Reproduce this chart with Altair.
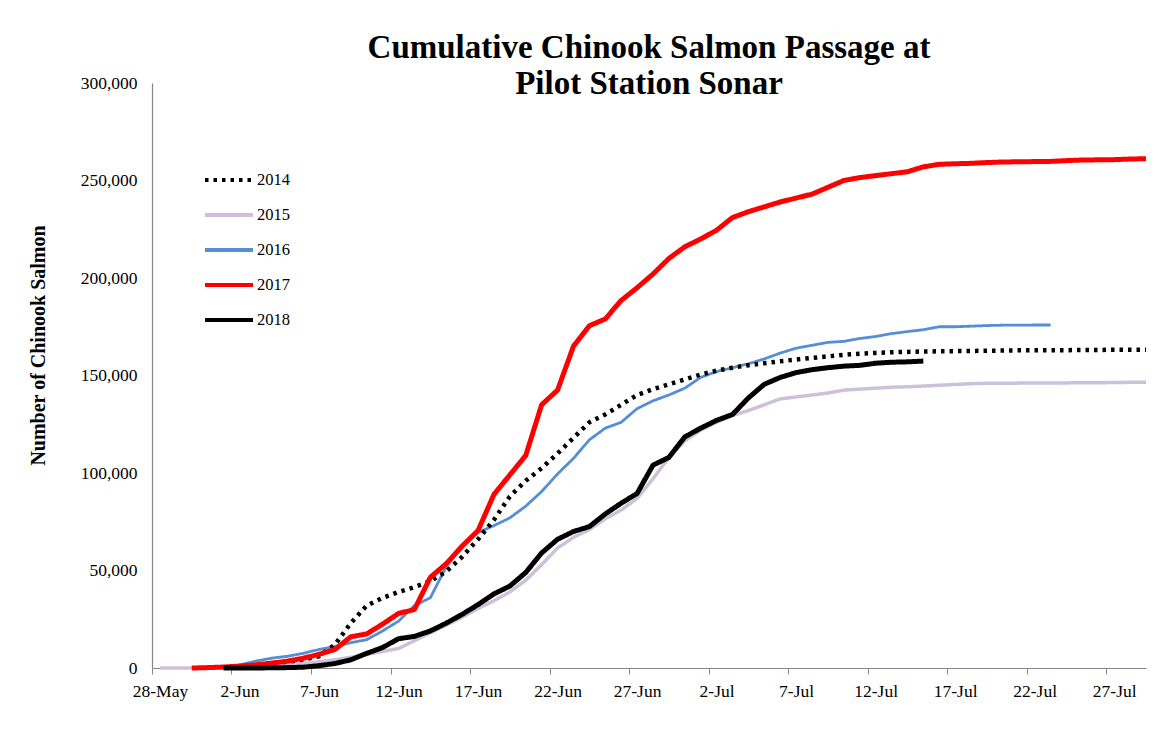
import altair as alt
import pandas as pd
from datetime import datetime, timedelta

YEARS = ["2014", "2015", "2016", "2017", "2018"]
COLORS = ["#000000", "#CCC1DA", "#558ED5", "#FF0000", "#000000"]
DASHES = [[3.5, 5], [1, 0], [1, 0], [1, 0], [1, 0]]
WIDTHS = {"2014": 4.5, "2015": 3.5, "2016": 2.8, "2017": 5, "2018": 5}
DRAW_ORDER = ["2015", "2016", "2014", "2017", "2018"]

START = {"2014": "2018-06-01", "2015": "2018-05-28", "2016": "2018-06-01",
         "2017": "2018-05-30", "2018": "2018-06-01"}

# cumulative passage, thousands of fish, one value per day from START
V2014 = [0.3, 0.8, 1.5, 2.3, 3.2, 4.3, 6, 12, 23, 32, 36, 39, 41.5, 44.5, 49.5, 57, 66,
         76, 88, 96, 102.5, 110, 118, 126, 130, 135, 140, 143, 145.5, 148, 150.5, 152.5,
         154, 155.3, 156.3, 157.3, 158.2, 159, 159.8, 160.6, 161.2, 161.6, 161.9, 162.1,
         162.3, 162.4, 162.5, 162.6, 162.7, 162.8, 162.9, 163, 163, 163, 163.1, 163.1,
         163.2, 163.2, 163.2]
V2015 = [0, 0, 0, 0, 0.1, 0.3, 0.6, 1.0, 1.6, 2.3, 3.2, 4.2, 5.5, 7, 8.5, 10, 14, 18, 22,
         26, 30.5, 34.5, 39, 45, 53, 61.5, 67, 71, 76.5, 81, 87, 97, 108, 116.5, 122, 126,
         129.5, 132, 135, 138, 139, 140, 141, 142.5, 143, 143.5, 144, 144.2, 144.6, 145,
         145.4, 145.8, 146, 146, 146.1, 146.1, 146.2, 146.2, 146.3, 146.3, 146.4, 146.5,
         146.5]
V2016 = [0, 1.5, 3.5, 5, 6, 7.5, 9.5, 11, 13, 14.5, 19, 24, 32, 36, 52, 62, 69.5, 73, 77,
         83, 90.5, 99.5, 107.5, 117, 123, 126, 133, 137, 140, 143.5, 149, 152, 154, 156,
         158.5, 161.5, 164, 165.5, 167, 167.5, 169, 170, 171.5, 172.5, 173.5, 175, 175,
         175.3, 175.6, 175.8, 175.8, 175.9, 175.9]
V2017 = [0, 0.2, 0.5, 1, 1.6, 2.5, 3.5, 5, 7, 9.5, 16, 17.5, 22.5, 28, 30, 46.5, 53.5,
         62.5, 70.5, 89, 99, 109, 135, 142.5, 165, 175.5, 179, 188.5, 195, 202, 210, 216,
         220, 224.5, 231, 234, 236.5, 239, 241, 243, 246.5, 250, 251.5, 252.5, 253.5,
         254.5, 257, 258.3, 258.6, 258.8, 259.2, 259.5, 259.6, 259.7, 259.8, 260.2, 260.5,
         260.6, 260.7, 261, 261.2]
V2018 = [0, 0, 0, 0.1, 0.2, 0.4, 1.2, 2.3, 4.2, 7.5, 10.5, 15, 16.2, 19, 23, 27.5, 32.5,
         38, 42, 49, 59, 66, 70, 72.5, 79, 84.5, 89.5, 104, 108, 118.5, 123, 127, 130,
         138.5, 145.5, 149, 151.5, 153, 154, 154.8, 155.2, 156.3, 156.8, 157, 157.4]
SERIES = {"2014": V2014, "2015": V2015, "2016": V2016, "2017": V2017, "2018": V2018}

TICK_DATES = ["2018-05-28", "2018-06-02", "2018-06-07", "2018-06-12", "2018-06-17",
              "2018-06-22", "2018-06-27", "2018-07-02", "2018-07-07", "2018-07-12",
              "2018-07-17", "2018-07-22", "2018-07-27"]
Y_TICKS = [0, 50000, 100000, 150000, 200000, 250000, 300000]

rows = []
for yr in DRAW_ORDER:
    d0 = datetime.strptime(START[yr], "%Y-%m-%d")
    for i, v in enumerate(SERIES[yr]):
        rows.append({"year": yr,
                     "date": (d0 + timedelta(days=i)).strftime("%Y-%m-%dT00:00:00"),
                     "value": v * 1000})
df = pd.DataFrame(rows)


def dt(s, hours=0):
    d = datetime.strptime(s, "%Y-%m-%d")
    return alt.DateTime(year=d.year, month=d.month, date=d.day, hours=hours)


legend = alt.Legend(title=None, orient="none", legendX=51, legendY=71,
                    symbolType="stroke", symbolSize=2304, symbolStrokeWidth=4,
                    labelFont="Liberation Serif", labelFontSize=16.5,
                    labelColor="#000000", labelOffset=2, rowPadding=-11, padding=0)

base = alt.Chart(df).encode(
    x=alt.X("date:T",
            scale=alt.Scale(domain=[dt("2018-05-27", 12), dt("2018-07-29", 0)]),
            axis=alt.Axis(title=None, values=[dt(s) for s in TICK_DATES],
                          format="%-d-%b", tickSize=6, tickOffset=-8, labelOffset=8,
                          labelPadding=8, labelFlush=False)),
    y=alt.Y("value:Q", scale=alt.Scale(domain=[0, 300000]),
            axis=alt.Axis(values=Y_TICKS, format=",.0f", tickSize=0, labelPadding=15,
                          title="Number of Chinook Salmon", titleFont="Liberation Serif",
                          titleFontSize=20, titleFontWeight="bold", titleColor="#000000",
                          titleX=-114, titleY=262, titleAlign="center",
                          titleBaseline="middle", titleAngle=270)),
    color=alt.Color("year:N", scale=alt.Scale(domain=YEARS, range=COLORS), legend=legend),
    strokeDash=alt.StrokeDash("year:N", scale=alt.Scale(domain=YEARS, range=DASHES),
                              legend=legend),
)

layers = [
    base.transform_filter(alt.datum.year == yr).mark_line(strokeJoin="round",
                                                          strokeWidth=WIDTHS[yr])
    for yr in DRAW_ORDER
]

chart = alt.layer(*layers).properties(
    width=994, height=585,
    autosize=alt.AutoSizeParams(type="none"),
    padding={"left": 144, "top": 75, "right": 4, "bottom": 60},
    title=alt.TitleParams(text=["Cumulative Chinook Salmon Passage at", "Pilot Station Sonar"],
                          font="Liberation Serif", fontSize=33, fontWeight="bold",
                          lineHeight=36, anchor="middle", frame="group", offset=0, dy=27,
                          color="#000000"),
).configure(background="white").configure_view(stroke=None).configure_axis(
    grid=False, domainColor="#868686", tickColor="#868686", labelColor="#000000",
    labelFont="Liberation Serif", labelFontSize=17.5, domainWidth=1.2
)

chart.save("out.html", embed_options={"renderer": "svg", "actions": False})
